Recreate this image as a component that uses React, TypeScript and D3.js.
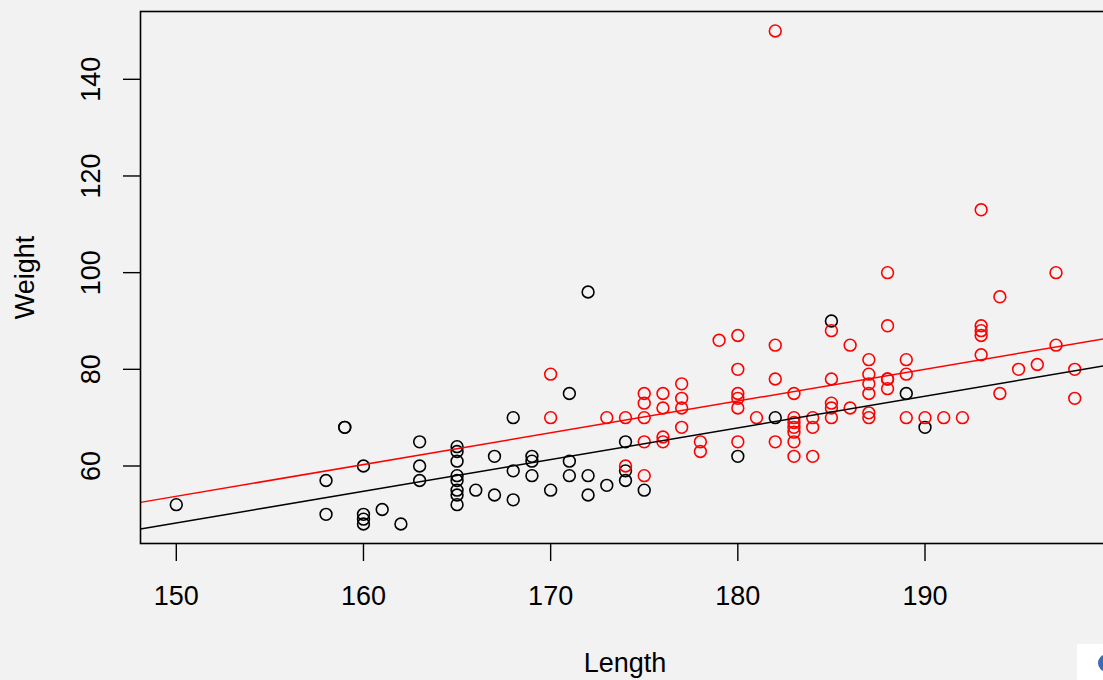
import React from "react";
import * as d3 from "d3";

// ---- data ----
const blackLength = [
  150, 158, 158, 159, 159, 160, 160, 160, 160, 161, 162, 163, 163, 163,
  165, 165, 165, 165, 165, 165, 165, 165, 166, 167, 167, 168, 168, 168,
  169, 169, 169, 170, 171, 171, 171, 172, 172, 172, 173, 174, 174, 174,
  175, 180, 182, 185, 189, 190,
];
const blackWeight = [
  52, 57, 50, 68, 68, 60, 50, 49, 48, 51, 48, 65, 60, 57,
  64, 63, 61, 58, 57, 55, 54, 52, 55, 62, 54, 70, 59, 53,
  62, 61, 58, 55, 75, 61, 58, 96, 58, 54, 56, 65, 59, 57,
  55, 62, 70, 90, 75, 68,
];

const redLength = [
  170, 170, 173, 174, 174, 175, 175, 175, 175, 175, 176, 176, 176, 176,
  177, 177, 177, 177, 178, 178, 179, 180, 180, 180, 180, 180, 180, 181,
  182, 182, 182, 182, 183, 183, 183, 183, 183, 183, 183, 184, 184, 184,
  185, 185, 185, 185, 185, 186, 186, 187, 187, 187, 187, 187, 187,
  188, 188, 188, 188, 188, 189, 189, 189, 190, 191, 192,
  193, 193, 193, 193, 193, 194, 194, 195, 196, 197, 197, 198, 198,
];
const redWeight = [
  79, 70, 70, 70, 60, 75, 73, 70, 65, 58, 75, 72, 66, 65,
  77, 74, 72, 68, 65, 63, 86, 87, 80, 75, 74, 72, 65, 70,
  150, 85, 78, 65, 75, 70, 69, 68, 67, 65, 62, 70, 68, 62,
  88, 78, 73, 72, 70, 85, 72, 82, 79, 77, 75, 71, 70,
  100, 89, 78, 78, 76, 82, 79, 70, 70, 70, 70,
  113, 89, 88, 87, 83, 95, 75, 80, 81, 100, 85, 80, 74,
];

// fitted lines: [intercept, slope]
const redLine = [-44.82, 0.657];
const blackLine = [-50.19, 0.656];

const xTicks = [150, 160, 170, 180, 190];
const yTicks = [60, 80, 100, 120, 140];
const xLabel = "Length";
const yLabel = "Weight";

export default function App() {
  const W = 1103;
  const H = 680;
  const left = 140.5;
  const top = 11.5;
  const bottom = 543.5;
  const right = 1109.5;

  const x = d3.scaleLinear().domain([150, 190]).range([176.3, 925]);
  const y = d3.scaleLinear().domain([60, 140]).range([466, 79.3]);

  const font = "'Liberation Sans', Arial, Helvetica, sans-serif";
  const fs = 27;

  const lineFor = (coef: number[]) => {
    const x0 = x.invert(left);
    const x1 = x.invert(right);
    const gen = d3
      .line<number>()
      .x((d) => x(d))
      .y((d) => y(coef[0] + coef[1] * d));
    return gen([x0, x1]) || "";
  };

  return (
    <div style={{ position: "absolute", left: 0, top: 0 }}>
      <svg width={W} height={H} style={{ display: "block" }}>
        <rect x={0} y={0} width={W} height={H} fill="#f2f2f2" />
        <defs>
          <clipPath id="plotclip">
            <rect x={left} y={top} width={right - left} height={bottom - top} />
          </clipPath>
        </defs>

        <g clipPath="url(#plotclip)">
          {blackLength.map((l, i) => (
            <circle
              key={"b" + i}
              cx={x(l)}
              cy={y(blackWeight[i])}
              r={5.9}
              fill="none"
              stroke="#000"
              strokeWidth={1.6}
            />
          ))}
          {redLength.map((l, i) => (
            <circle
              key={"r" + i}
              cx={x(l)}
              cy={y(redWeight[i])}
              r={5.9}
              fill="none"
              stroke="#ff0000"
              strokeWidth={1.6}
            />
          ))}
          <path d={lineFor(redLine)} stroke="#ff0000" strokeWidth={1.5} fill="none" />
          <path d={lineFor(blackLine)} stroke="#000" strokeWidth={1.5} fill="none" />
        </g>

        {/* box */}
        <rect
          x={left}
          y={top}
          width={right - left}
          height={bottom - top}
          fill="none"
          stroke="#000"
          strokeWidth={1.6}
        />

        {/* x axis */}
        {xTicks.map((t) => (
          <g key={"xt" + t}>
            <line x1={x(t)} x2={x(t)} y1={bottom} y2={561} stroke="#000" strokeWidth={1.4} />
            <text
              x={x(t)}
              y={605}
              textAnchor="middle"
              fontFamily={font}
              fontSize={fs}
              fill="#000"
            >
              {t}
            </text>
          </g>
        ))}

        {/* y axis */}
        {yTicks.map((t) => (
          <g key={"yt" + t}>
            <line x1={123} x2={left} y1={y(t)} y2={y(t)} stroke="#000" strokeWidth={1.4} />
            <text
              transform={`translate(100,${y(t)}) rotate(-90)`}
              textAnchor="middle"
              fontFamily={font}
              fontSize={fs}
              fill="#000"
            >
              {t}
            </text>
          </g>
        ))}

        <text
          x={(left + right) / 2}
          y={672}
          textAnchor="middle"
          fontFamily={font}
          fontSize={fs}
          fill="#000"
        >
          {xLabel}
        </text>
        <text
          transform={`translate(34,${(top + bottom) / 2}) rotate(-90)`}
          textAnchor="middle"
          fontFamily={font}
          fontSize={fs}
          fill="#000"
        >
          {yLabel}
        </text>

        {/* small widget in the corner */}
        <rect x={1077} y={644} width={30} height={40} fill="#ffffff" />
        <circle cx={1107} cy={663} r={9} fill="#3a6db5" />
      </svg>
    </div>
  );
}
